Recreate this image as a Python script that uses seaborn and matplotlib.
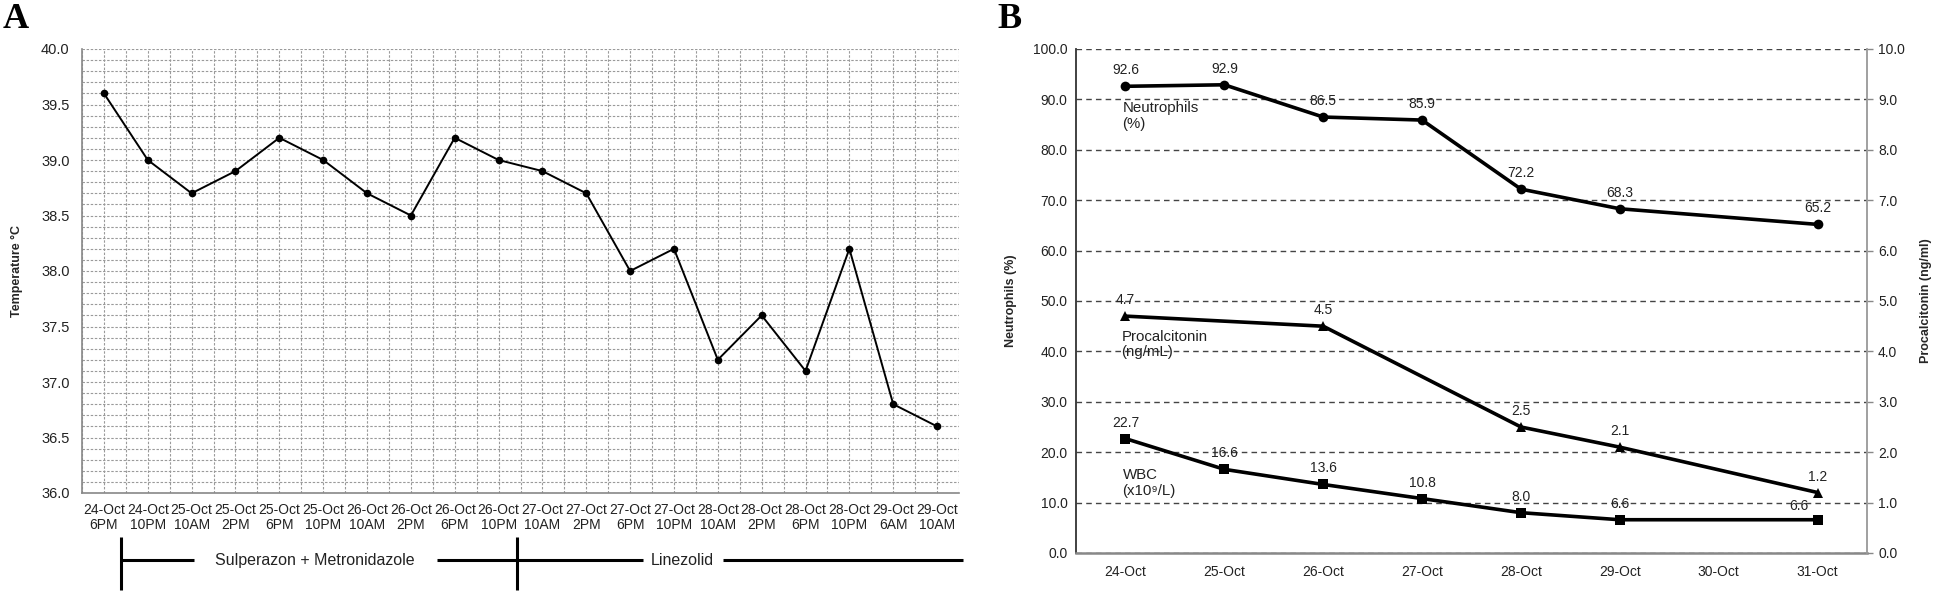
import numpy as np
import pandas as pd
import matplotlib
matplotlib.use("Agg")
import matplotlib.pyplot as plt
import seaborn as sns
from matplotlib.ticker import MultipleLocator, FormatStrFormatter

# ---- data: panel A (temperature) ----
temp_times = ["24-Oct\n6PM", "24-Oct\n10PM", "25-Oct\n10AM", "25-Oct\n2PM",
              "25-Oct\n6PM", "25-Oct\n10PM", "26-Oct\n10AM", "26-Oct\n2PM",
              "26-Oct\n6PM", "26-Oct\n10PM", "27-Oct\n10AM", "27-Oct\n2PM",
              "27-Oct\n6PM", "27-Oct\n10PM", "28-Oct\n10AM", "28-Oct\n2PM",
              "28-Oct\n6PM", "28-Oct\n10PM", "29-Oct\n6AM", "29-Oct\n10AM"]
temp_values = [39.6, 39.0, 38.7, 38.9, 39.2, 39.0, 38.7, 38.5, 39.2, 39.0,
               38.9, 38.7, 38.0, 38.2, 37.2, 37.6, 37.1, 38.2, 36.8, 36.6]
treatments = ["Sulperazon + Metronidazole", "Linezolid"]

# ---- data: panel B (labs) ----
lab_dates = ["24-Oct", "25-Oct", "26-Oct", "27-Oct", "28-Oct", "29-Oct", "30-Oct", "31-Oct"]
neutrophils = [92.6, 92.9, 86.5, 85.9, 72.2, 68.3, np.nan, 65.2]
procalcitonin = [4.7, np.nan, 4.5, np.nan, 2.5, 2.1, np.nan, 1.2]
wbc = [22.7, 16.6, 13.6, 10.8, 8.0, 6.6, np.nan, 6.6]

sns.set_style("white")
plt.rcParams["font.family"] = ["Liberation Sans", "DejaVu Sans"]
plt.rcParams["text.color"] = "#222222"

W, H = 1946, 593
fig = plt.figure(figsize=(W / 100, H / 100), dpi=100)
axA = fig.add_axes([82 / W, 1 - 493 / H, (959 - 82) / W, (493 - 49) / H])
axB = fig.add_axes([1076 / W, 1 - 553 / H, (1867 - 1076) / W, (553 - 49) / H])

# ================= Panel A =================
df_t = pd.DataFrame({"pos": np.arange(len(temp_times)), "temp": temp_values})
sns.lineplot(data=df_t, x="pos", y="temp", ax=axA, color="black", lw=1.4,
             marker="o", markersize=5.5, markeredgewidth=0)
axA.set_xlim(-0.5, len(temp_times) - 0.5)
axA.set_ylim(36.0, 40.0)
axA.set_xticks(np.arange(len(temp_times)))
axA.set_xticklabels(temp_times, fontsize=10, linespacing=1.1)
axA.set_xticks(np.arange(len(temp_times) + 1) - 0.5, minor=True)
axA.yaxis.set_major_locator(MultipleLocator(0.5))
axA.yaxis.set_minor_locator(MultipleLocator(0.1))
axA.yaxis.set_major_formatter(FormatStrFormatter("%.1f"))
axA.tick_params(axis="x", which="major", length=0, pad=7, colors="#222222")
axA.tick_params(axis="x", which="minor", length=5, width=1, color="#888888", direction="out")
axA.tick_params(axis="y", which="major", length=5, width=1, color="#888888",
                direction="out", labelsize=10.5, labelcolor="#222222", pad=4)
axA.tick_params(axis="y", which="minor", length=0)
axA.grid(True, which="both", axis="both", color="#9a9a9a", lw=0.8, ls=(0, (2.2, 1.5)))
axA.set_axisbelow(True)
for s in ["top", "right"]:
    axA.spines[s].set_visible(False)
for s in ["left", "bottom"]:
    axA.spines[s].set_color("#888888")
    axA.spines[s].set_linewidth(1.2)
axA.set_xlabel("")
axA.set_ylabel("Temperature °C", fontsize=9, fontweight="bold")
axA.yaxis.set_label_coords(-0.067, 0.5)

# treatment brackets under the x axis
tr = axA.get_xaxis_transform()
y_line = -0.151
kw = dict(color="black", lw=2.2, transform=tr, clip_on=False, solid_capstyle="butt")
axA.plot([0.4, 0.4], [-0.099, -0.218], **kw)
axA.plot([9.42, 9.42], [-0.099, -0.218], **kw)
axA.plot([0.4, 2.05], [y_line, y_line], **kw)
axA.plot([7.6, 12.29], [y_line, y_line], **kw)
axA.plot([14.12, 19.6], [y_line, y_line], **kw)
axA.text(4.81, y_line, treatments[0], transform=tr, ha="center", va="center", fontsize=11.5)
axA.text(13.2, y_line, treatments[1], transform=tr, ha="center", va="center", fontsize=11.5)

fig.text(3 / W, 1 - 3 / H, "A", family="Liberation Serif", fontweight="bold",
         fontsize=26, ha="left", va="top", color="black")
fig.text(997 / W, 1 - 3 / H, "B", family="Liberation Serif", fontweight="bold",
         fontsize=26, ha="left", va="top", color="black")

# ================= Panel B =================
df_b = pd.DataFrame({"pos": np.arange(len(lab_dates)), "neut": neutrophils,
                     "pct": procalcitonin, "wbc": wbc})
axB2 = axB.twinx()
line_kw = dict(color="black", lw=2.6, markeredgewidth=0)
sns.lineplot(data=df_b.dropna(subset=["neut"]), x="pos", y="neut", ax=axB,
             marker="o", markersize=7, **line_kw)
sns.lineplot(data=df_b.dropna(subset=["wbc"]), x="pos", y="wbc", ax=axB,
             marker="s", markersize=6.5, **line_kw)
sns.lineplot(data=df_b.dropna(subset=["pct"]), x="pos", y="pct", ax=axB2,
             marker="^", markersize=7.5, **line_kw)

lab_kw = dict(textcoords="offset points", ha="center", va="center", fontsize=10, color="#222222")
for col, ax in [("neut", axB), ("wbc", axB), ("pct", axB2)]:
    sub = df_b.dropna(subset=[col])
    for i, (p, v) in enumerate(zip(sub["pos"], sub[col])):
        off = (0, 11.5)
        if col == "wbc" and i == len(sub) - 1:
            off = (-13.5, 10)
        ax.annotate(f"{v:.1f}", (p, v), xytext=off, **lab_kw)

axB.text(-0.03, 89.6, "Neutrophils\n(%)", ha="left", va="top", fontsize=10.8, linespacing=1.15)
axB.text(-0.04, 44.3, "Procalcitonin\n(ng/mL)", ha="left", va="top", fontsize=10.8, linespacing=1.15)
axB.text(-0.03, 16.8, "WBC\n(x10⁹/L)", ha="left", va="top", fontsize=10.8, linespacing=1.15)

axB.set_xlim(-0.5, len(lab_dates) - 0.5)
axB.set_ylim(0, 100)
axB2.set_ylim(0, 10)
axB.set_xticks(np.arange(len(lab_dates)))
axB.set_xticklabels(lab_dates, fontsize=10)
axB.yaxis.set_major_locator(MultipleLocator(10))
axB.yaxis.set_major_formatter(FormatStrFormatter("%.1f"))
axB2.yaxis.set_major_locator(MultipleLocator(1))
axB2.yaxis.set_major_formatter(FormatStrFormatter("%.1f"))
axB.tick_params(axis="x", length=0, pad=9, colors="#222222")
axB.tick_params(axis="y", length=0, pad=6, labelsize=10, labelcolor="#222222")
axB2.tick_params(axis="y", length=4, width=1, color="#888888", direction="out",
                 pad=4, labelsize=10, labelcolor="#222222")
axB.grid(True, axis="y", color="#444444", lw=1.0, ls=(0, (4, 3)))
axB.grid(False, axis="x")
axB2.grid(False)
axB.set_axisbelow(True)
axB.spines["top"].set_visible(False)
axB.spines["right"].set_visible(False)
axB.spines["left"].set_color("#333333")
axB.spines["left"].set_linewidth(1.3)
axB.spines["bottom"].set_color("#888888")
axB.spines["bottom"].set_linewidth(1.8)
for s in ["top", "left", "bottom"]:
    axB2.spines[s].set_visible(False)
axB2.spines["right"].set_color("#999999")
axB2.spines["right"].set_linewidth(1.3)
axB.set_xlabel("")
axB2.set_xlabel("")
axB.set_ylabel("Neutrophils (%)", fontsize=9, fontweight="bold")
axB.yaxis.set_label_coords(-0.0746, 0.5)
axB2.set_ylabel("Procalcitonin (ng/ml)", fontsize=9, fontweight="bold")
axB2.yaxis.set_label_coords(1.067, 0.5)

fig.savefig("out.png", dpi=100)
plt.close(fig)
